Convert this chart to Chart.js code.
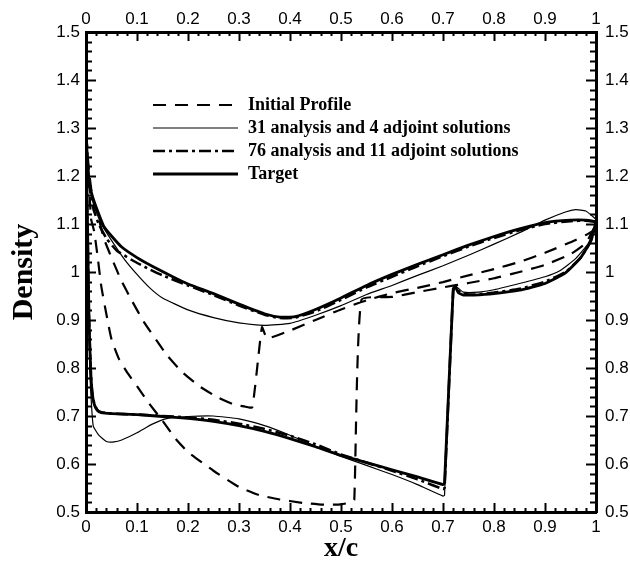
<!DOCTYPE html>
<html>
<head>
<meta charset="utf-8">
<script src="https://cdn.jsdelivr.net/npm/chart.js@4"></script>
<style>
  html, body { margin: 0; padding: 0; background: #fff; }
  #wrap { width: 630px; height: 572px; }
</style>
</head>
<body>
<div id="wrap"><canvas id="chart" width="630" height="572"></canvas></div>
<script>
// Tick labels
const xTickLabels = ['0', '0.1', '0.2', '0.3', '0.4', '0.5', '0.6', '0.7', '0.8', '0.9', '1'];
const yTickLabels = ['0.5', '0.6', '0.7', '0.8', '0.9', '1', '1.1', '1.2', '1.3', '1.4', '1.5'];

// Series names
const seriesNames = [
  'Initial Profile',
  '31 analysis and 4 adjoint solutions',
  '76 analysis and 11 adjoint solutions',
  'Target'
];

// Initial profile: higher branch (jump near x/c = 0.34)
const initialTopX = [0, 0.005, 0.012, 0.023, 0.035, 0.05, 0.068, 0.09, 0.114, 0.14, 0.16, 0.19, 0.225, 0.26, 0.29, 0.31, 0.326, 0.345, 0.355, 0.4, 0.45, 0.5, 0.55, 0.6, 0.65, 0.7, 0.75, 0.8, 0.85, 0.9, 0.95, 0.98, 1.0];
const initialTopY = [1.30, 1.22, 1.16, 1.12, 1.07, 1.03, 0.985, 0.94, 0.895, 0.855, 0.825, 0.79, 0.76, 0.738, 0.724, 0.72, 0.718, 0.885, 0.862, 0.878, 0.9, 0.922, 0.941, 0.956, 0.967, 0.979, 0.993, 1.006, 1.021, 1.04, 1.062, 1.077, 1.09];
// Initial profile: lower branch (jump near x/c = 0.53)
const initialBottomX = [0, 0.005, 0.01, 0.016, 0.023, 0.03, 0.04, 0.05, 0.065, 0.08, 0.1, 0.121, 0.15, 0.176, 0.2, 0.25, 0.3, 0.34, 0.38, 0.425, 0.47, 0.5, 0.52, 0.526, 0.54, 0.6, 0.65, 0.7, 0.75, 0.8, 0.85, 0.9, 0.95, 0.98, 1.0];
const initialBottomY = [1.30, 1.20, 1.11, 1.085, 1.03, 0.97, 0.912, 0.86, 0.818, 0.792, 0.762, 0.73, 0.69, 0.652, 0.625, 0.586, 0.552, 0.535, 0.526, 0.519, 0.515, 0.516, 0.52, 0.525, 0.942, 0.948, 0.958, 0.968, 0.977, 0.987, 1.0, 1.015, 1.037, 1.06, 1.1];

// 31 analysis / 4 adjoint solutions
const run31TopX = [0, 0.003, 0.008, 0.015, 0.03, 0.05, 0.075, 0.1, 0.125, 0.15, 0.2, 0.25, 0.3, 0.35, 0.4, 0.45, 0.5, 0.55, 0.6, 0.65, 0.7, 0.75, 0.8, 0.85, 0.9, 0.94, 0.96, 0.98, 1.0];
const run31TopY = [1.30, 1.24, 1.18, 1.14, 1.10, 1.066, 1.027, 0.995, 0.967, 0.946, 0.921, 0.905, 0.894, 0.889, 0.893, 0.91, 0.93, 0.953, 0.972, 0.993, 1.013, 1.035, 1.058, 1.082, 1.108, 1.125, 1.13, 1.127, 1.11];
const run31BottomX = [0, 0.004, 0.008, 0.014, 0.025, 0.04, 0.055, 0.07, 0.1, 0.13, 0.16, 0.2, 0.25, 0.3, 0.35, 0.4, 0.45, 0.5, 0.55, 0.6, 0.65, 0.7, 0.703, 0.72, 0.725, 0.74, 0.77, 0.8, 0.85, 0.9, 0.93, 0.96, 0.985, 1.0];
const run31BottomY = [1.30, 1.0, 0.78, 0.68, 0.66, 0.647, 0.646, 0.65, 0.665, 0.683, 0.695, 0.699, 0.70, 0.694, 0.68, 0.66, 0.637, 0.616, 0.597, 0.578, 0.557, 0.533, 0.535, 0.96, 0.97, 0.958, 0.958, 0.963, 0.976, 0.99, 1.003, 1.028, 1.06, 1.1];

// 76 analysis / 11 adjoint solutions
const run76TopX = [0, 0.003, 0.008, 0.015, 0.025, 0.04, 0.06, 0.09, 0.12, 0.15, 0.2, 0.25, 0.3, 0.35, 0.38, 0.41, 0.45, 0.5, 0.55, 0.6, 0.65, 0.7, 0.75, 0.8, 0.85, 0.9, 0.95, 0.98, 1.0];
const run76TopY = [1.30, 1.23, 1.17, 1.13, 1.10, 1.07, 1.045, 1.025, 1.008, 0.993, 0.972, 0.952, 0.93, 0.911, 0.904, 0.905, 0.918, 0.942, 0.968, 0.99, 1.012, 1.033, 1.053, 1.071, 1.087, 1.10, 1.106, 1.107, 1.105];
const run76BottomX = [0, 0.003, 0.006, 0.009, 0.012, 0.016, 0.022, 0.03, 0.05, 0.1, 0.15, 0.2, 0.25, 0.3, 0.35, 0.4, 0.45, 0.5, 0.55, 0.6, 0.65, 0.7, 0.703, 0.72, 0.725, 0.735, 0.76, 0.8, 0.85, 0.9, 0.94, 0.97, 0.99, 1.0];
const run76BottomY = [1.30, 1.08, 0.90, 0.80, 0.75, 0.727, 0.713, 0.708, 0.705, 0.703, 0.70, 0.697, 0.692, 0.684, 0.673, 0.659, 0.641, 0.62, 0.603, 0.586, 0.568, 0.548, 0.55, 0.96, 0.968, 0.956, 0.953, 0.957, 0.965, 0.98, 1.0, 1.03, 1.065, 1.103];

// Target distribution
const targetTopX = [0, 0.002, 0.006, 0.012, 0.02, 0.035, 0.05, 0.07, 0.1, 0.13, 0.17, 0.2, 0.25, 0.3, 0.35, 0.38, 0.41, 0.45, 0.5, 0.55, 0.6, 0.65, 0.7, 0.75, 0.8, 0.85, 0.9, 0.95, 0.98, 1.0];
const targetTopY = [1.30, 1.25, 1.19, 1.16, 1.135, 1.095, 1.075, 1.052, 1.03, 1.012, 0.99, 0.975, 0.955, 0.933, 0.913, 0.906, 0.907, 0.922, 0.946, 0.972, 0.995, 1.016, 1.036, 1.056, 1.074, 1.09, 1.103, 1.108, 1.108, 1.105];
const targetBottomX = [0, 0.003, 0.006, 0.009, 0.012, 0.016, 0.022, 0.03, 0.05, 0.1, 0.15, 0.2, 0.25, 0.3, 0.35, 0.4, 0.45, 0.5, 0.55, 0.6, 0.65, 0.7, 0.703, 0.72, 0.724, 0.73, 0.74, 0.76, 0.8, 0.85, 0.9, 0.94, 0.97, 0.99, 1.0];
const targetBottomY = [1.30, 1.10, 0.90, 0.80, 0.75, 0.725, 0.712, 0.707, 0.705, 0.703, 0.699, 0.695, 0.689, 0.68, 0.668, 0.653, 0.636, 0.618, 0.603, 0.588, 0.573, 0.557, 0.56, 0.965, 0.97, 0.957, 0.952, 0.952, 0.955, 0.962, 0.976, 0.998, 1.03, 1.065, 1.105];

// Join the two branches into one closed loop: trailing edge -> leading edge -> trailing edge
function loop(topX, topY, botX, botY) {
  const pts = [];
  for (let i = topX.length - 1; i >= 0; i--) pts.push({ x: topX[i], y: topY[i] });
  for (let i = 1; i < botX.length; i++) pts.push({ x: botX[i], y: botY[i] });
  return pts;
}

const lineStyles = [
  { width: 2.2, dash: [13, 9] },
  { width: 1.2, dash: [] },
  { width: 2.6, dash: [12, 4, 3, 4] },
  { width: 2.8, dash: [] }
];

const curves = [
  loop(initialTopX, initialTopY, initialBottomX, initialBottomY),
  loop(run31TopX, run31TopY, run31BottomX, run31BottomY),
  loop(run76TopX, run76TopY, run76BottomX, run76BottomY),
  loop(targetTopX, targetTopY, targetBottomX, targetBottomY)
];

const drawOrder = [4, 3, 1, 2];

const datasets = curves.map((pts, i) => ({
  label: seriesNames[i],
  data: pts,
  showLine: true,
  borderColor: '#000',
  backgroundColor: '#000',
  borderWidth: lineStyles[i].width,
  borderDash: lineStyles[i].dash,
  borderCapStyle: 'butt',
  borderJoinStyle: 'round',
  pointRadius: 0,
  pointHoverRadius: 0,
  tension: 0.15,
  fill: false,
  order: drawOrder[i]
}));

// Inward major/minor ticks on all four sides of the frame
const frameTicks = {
  id: 'frameTicks',
  afterDatasetsDraw(chart) {
    const { ctx, chartArea: a, scales } = chart;
    const sx = scales.x, sy = scales.y;
    ctx.save();
    ctx.strokeStyle = '#000';
    ctx.lineWidth = 2;
    ctx.beginPath();
    const xMin = sx.min, xMax = sx.max, yMin = sy.min, yMax = sy.max;
    const nx = 50, ny = 50;
    for (let i = 0; i <= nx; i++) {
      const px = Math.round(sx.getPixelForValue(xMin + (xMax - xMin) * i / nx)) + 0.5;
      const len = i % 5 === 0 ? 9 : 4;
      ctx.moveTo(px, a.top); ctx.lineTo(px, a.top + len);
      ctx.moveTo(px, a.bottom); ctx.lineTo(px, a.bottom - len);
    }
    for (let i = 0; i <= ny; i++) {
      const py = Math.round(sy.getPixelForValue(yMin + (yMax - yMin) * i / ny)) + 0.5;
      const len = i % 5 === 0 ? 10 : 6;
      ctx.moveTo(a.left, py); ctx.lineTo(a.left + len, py);
      ctx.moveTo(a.right, py); ctx.lineTo(a.right - len, py);
    }
    ctx.stroke();
    ctx.restore();
  }
};

// Legend block inside the plot area
const insideLegend = {
  id: 'insideLegend',
  afterDatasetsDraw(chart) {
    const { ctx, chartArea: a } = chart;
    ctx.save();
    const x0 = a.left + 67, x1 = a.left + 152, tx = a.left + 162;
    const rowY = [a.top + 73, a.top + 96, a.top + 119, a.top + 142];
    chart.data.datasets.forEach((ds, i) => {
      ctx.strokeStyle = '#000';
      ctx.lineWidth = ds.borderWidth;
      ctx.setLineDash(ds.borderDash || []);
      ctx.beginPath();
      ctx.moveTo(x0, rowY[i]);
      ctx.lineTo(x1, rowY[i]);
      ctx.stroke();
      ctx.setLineDash([]);
      ctx.fillStyle = '#000';
      ctx.font = 'bold 18px "Liberation Serif", "Times New Roman", serif';
      ctx.textBaseline = 'middle';
      ctx.textAlign = 'left';
      ctx.fillText(ds.label, tx, rowY[i]);
    });
    ctx.restore();
  }
};

const tickFont = { family: '"Liberation Sans", Arial, sans-serif', size: 17 };
const serif = '"Liberation Serif", "Times New Roman", serif';

function xTicks(padding) {
  return {
    stepSize: 0.1, autoSkip: false, maxRotation: 0, padding: padding,
    color: '#000', font: tickFont,
    callback: (v) => xTickLabels[Math.round(v * 10)]
  };
}
function yTicks(padding) {
  return {
    stepSize: 0.1, autoSkip: false, padding: padding,
    color: '#000', font: tickFont,
    callback: (v) => yTickLabels[Math.round((v - 0.5) * 10)]
  };
}
const frameBorder = { display: true, color: '#000', width: 3 };
const noGrid = { display: false, drawTicks: false };

new Chart(document.getElementById('chart'), {
  type: 'scatter',
  data: { datasets },
  options: {
    responsive: false,
    animation: false,
    events: [],
    layout: { padding: 0 },
    plugins: { legend: { display: false }, tooltip: { enabled: false } },
    scales: {
      x: {
        type: 'linear', position: 'bottom', min: 0, max: 1,
        grid: noGrid, border: frameBorder,
        ticks: xTicks(5),
        title: { display: true, text: 'x/c', color: '#000', font: { family: serif, size: 28, weight: 'bold' }, padding: { top: 0, bottom: 6 } },
        afterFit: (s) => { s.height = 60; }
      },
      x2: {
        type: 'linear', position: 'top', min: 0, max: 1,
        grid: noGrid, border: frameBorder,
        ticks: xTicks(2),
        afterFit: (s) => { s.height = 32; }
      },
      y: {
        type: 'linear', position: 'left', min: 0.5, max: 1.5,
        grid: noGrid, border: frameBorder,
        ticks: yTicks(6),
        title: { display: true, text: 'Density', color: '#000', font: { family: serif, size: 30, weight: 'bold' }, padding: { top: 6, bottom: 0 } },
        afterFit: (s) => { s.width = 86; }
      },
      y2: {
        type: 'linear', position: 'right', min: 0.5, max: 1.5,
        grid: noGrid, border: frameBorder,
        ticks: yTicks(9),
        afterFit: (s) => { s.width = 34; }
      }
    }
  },
  plugins: [frameTicks, insideLegend]
});
</script>
</body>
</html>
